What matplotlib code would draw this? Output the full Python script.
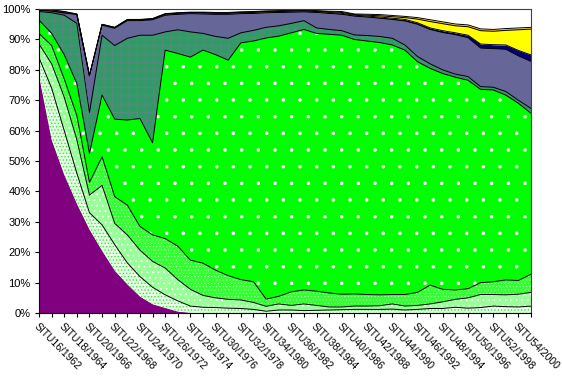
import numpy as np
import matplotlib.pyplot as plt

plt.rcParams['font.family'] = ['Liberation Sans', 'DejaVu Sans']

# categories: one per year, 1962-2001
situ = ['SITU16/1962', 'SITU17/1963', 'SITU18/1964', 'SITU19/1965', 'SITU20/1966',
        'SITU21/1967', 'SITU22/1968', 'SITU23/1969', 'SITU24/1970', 'SITU25/1971',
        'SITU26/1972', 'SITU27/1973', 'SITU28/1974', 'SITU29/1975', 'SITU30/1976',
        'SITU31/1977', 'SITU32/1978', 'SITU33/1979', 'SITU34/1980', 'SITU35/1981',
        'SITU36/1982', 'SITU37/1983', 'SITU38/1984', 'SITU39/1985', 'SITU40/1986',
        'SITU41/1987', 'SITU42/1988', 'SITU43/1989', 'SITU44/1990', 'SITU45/1991',
        'SITU46/1992', 'SITU47/1993', 'SITU48/1994', 'SITU49/1995', 'SITU50/1996',
        'SITU51/1997', 'SITU52/1998', 'SITU53/1999', 'SITU54/2000', 'SITU55/2001']

# shares (%) per series, bottom to top
purple = [78, 57, 45.5, 36, 27.5, 20.5, 14, 9.5, 5.5, 3, 1.8, 0.6, 0.2, 0.1, 0, 0, 0, 0, 0, 0,
          0, 0, 0, 0, 0, 0, 0, 0, 0, 0, 0, 0, 0, 0, 0, 0, 0, 0, 0, 0]
light_dots = [6, 17, 14.5, 10, 5.5, 8.5, 8.5, 7, 6.5, 5.5, 4.2, 3.4, 2.1, 1.8, 1.8, 1.6, 1.5, 1.2, 0.6, 1,
              1, 0.8, 0.9, 1, 1.1, 1.2, 1.2, 1.2, 1.3, 1.0, 1.2, 1.5, 1.5, 1.9, 1.6, 1.8, 2.3, 2.1, 2.0, 2.3]
light_cross = [4.5, 8, 11, 11, 5.8, 13, 7, 9.2, 8.7, 8.5, 8.8, 7, 5.5, 3.9, 3.2, 2.9, 2.8, 2.3, 1.6, 2,
               1.5, 2.2, 1.6, 1.0, 0.9, 1.1, 1.1, 1.2, 1.7, 1.3, 1.3, 1.5, 2.2, 2.6, 3.4, 4.3, 3.8, 3.9, 4.2, 4.5]
green_check = [3.5, 6, 6, 8, 4.2, 9.4, 8.8, 9.8, 7.8, 8.7, 9.7, 11, 9.6, 10.6, 9.1, 7.8, 6.7, 6.8, 2.4, 2.5,
               4.5, 4.6, 4.7, 4.6, 4.2, 4.0, 3.8, 3.6, 3.1, 3.8, 4.3, 6.2, 4.1, 3.1, 3.0, 3.9, 4.2, 4.9, 4.5, 6.0]
green = [4.4, 4, 8, 10.5, 9.5, 20.3, 25.5, 28, 35.5, 30.3, 62, 63.4, 66.8, 70.1, 70.9, 70.9, 77.9, 79.2, 85.9, 85.6,
         85.2, 85.7, 84.8, 85.1, 85.2, 83.7, 83.4, 83.0, 82.1, 80.4, 75.9, 71.3, 71.0, 70.0, 68.6, 63.6, 63.1, 60.8, 58.3, 52.9]
dark_green = [2.8, 6.8, 13, 19.8, 13.5, 19.7, 24.2, 26.9, 27.4, 35.4, 6, 7.8, 8.3, 5.5, 6, 7.2, 3.3, 3.5, 3.5, 3.4,
              3.1, 2.9, 1.8, 1.6, 1.5, 1.5, 1.8, 2.0, 2.2, 1.7, 1.7, 1.5, 1.2, 1.0, 1.2, 0.9, 0.9, 1.2, 1.0, 1.6]
slate = [0.4, 0.5, 0.7, 2.9, 12, 3.3, 5.7, 5.8, 4.8, 5.1, 5.5, 5.1, 6, 6.4, 7.3, 7.9, 6.3, 5.6, 4.8, 4.4,
         3.7, 2.9, 5.1, 5.3, 5.4, 6.2, 6.1, 6.0, 6.2, 7.9, 10.6, 11.3, 12.3, 13.0, 12.8, 12.7, 12.7, 13.9, 14.6, 15.5]
navy = [0.1, 0.1, 0.1, 0.1, 0.1, 0.2, 0.2, 0.2, 0.2, 0.2, 0.3, 0.3, 0.3, 0.3, 0.3, 0.3, 0.3, 0.3, 0.3, 0.3,
        0.3, 0.3, 0.3, 0.3, 0.3, 0.3, 0.3, 0.4, 0.4, 0.5, 0.5, 0.5, 0.6, 0.6, 0.8, 1.3, 1.3, 1.4, 1.8, 2.1]
yellow = [0.1, 0.3, 0.3, 0.05, 0.05, 0.05, 0.05, 0.1, 0.1, 0.1, 0.1, 0.1, 0.1, 0.15, 0.15, 0.15, 0.15, 0.15, 0.15, 0.15,
          0.15, 0.1, 0.15, 0.2, 0.3, 0.2, 0.3, 0.4, 0.5, 0.6, 1.2, 2.1, 2.3, 2.3, 2.8, 4.4, 4.4, 4.8, 6.8, 8.5]
gold = [0.1, 0.1, 0.1, 0.05, 0.05, 0.05, 0.05, 0.1, 0.1, 0.1, 0.1, 0.1, 0.1, 0.15, 0.15, 0.15, 0.15, 0.15, 0.15, 0.15,
        0.15, 0.15, 0.15, 0.2, 0.3, 0.2, 0.3, 0.4, 0.4, 0.4, 0.5, 0.6, 0.6, 0.6, 0.6, 0.6, 0.6, 0.6, 0.6, 0.6]
white = [0.1, 0.2, 0.8, 1.6, 21.8, 5, 6, 3.4, 3.4, 3.1, 1.5, 1.2, 1, 1.0, 1.1, 1.1, 0.9, 0.8, 0.6, 0.5,
         0.4, 0.35, 0.5, 0.7, 0.8, 1.6, 1.7, 1.8, 2.1, 2.4, 2.8, 3.5, 4.2, 4.9, 5.2, 6.5, 6.7, 6.4, 6.2, 6.0]

series = [purple, light_dots, light_cross, green_check, green, dark_green,
          slate, navy, yellow, gold, white]
# facecolor, hatch colour, hatch, hatch linewidth
styles = [('#800080', '#800080', None, 1.0),
          ('#e6ffe6', '#33ee33', '.....', 0.6),
          ('#99ff99', 'white', '...', 0.6),
          ('#33ff33', '#ccffcc', '.....', 0.3),
          ('#00ff00', 'white', '.', 0.1),
          ('#339966', '#558a80', '++', 0.8),
          ('#666699', '#666699', None, 1.0),
          ('#000080', '#000080', None, 1.0),
          ('#ffff00', '#ffff00', None, 1.0),
          ('#ffcc00', '#ffcc00', None, 1.0),
          ('white', 'white', None, 1.0)]

data = np.array(series, dtype=float)
data = data / data.sum(axis=0) * 100  # 100% stacked
tops = np.cumsum(data, axis=0)
x = np.arange(len(situ))

fig = plt.figure(figsize=(5.62, 3.79), dpi=100)
ax = fig.add_axes([0.0694, 0.174, 0.8755, 0.802])

lower = np.zeros(len(x))
for top, (fc, hc, h, hlw) in zip(tops, styles):
    with plt.rc_context({'hatch.linewidth': hlw}):
        ax.fill_between(x, lower, top, facecolor=fc, edgecolor=hc, hatch=h, linewidth=0)
    lower = top
# series outlines (purple edge is not visible in the original)
for top in tops[1:-1]:
    ax.plot(x, top, color='black', lw=0.7)

ax.set_xlim(0, len(x) - 1)
ax.set_ylim(0, 100)
ax.set_yticks(range(0, 101, 10))
ax.set_yticklabels([f'{v}%' for v in range(0, 101, 10)], fontsize=8)
ax.set_xticks(x)
ax.set_xticklabels([s if k % 2 == 0 else '' for k, s in enumerate(situ)],
                   rotation=-45, ha='left', va='top', rotation_mode='anchor', fontsize=7.5)
ax.tick_params(direction='out', length=3, width=0.8, pad=3)
for sp in ax.spines.values():
    sp.set_color('black')
    sp.set_linewidth(0.8)
ax.spines['top'].set_color('#404040')
ax.spines['right'].set_color('#404040')

fig.savefig('out.png', dpi=100)
